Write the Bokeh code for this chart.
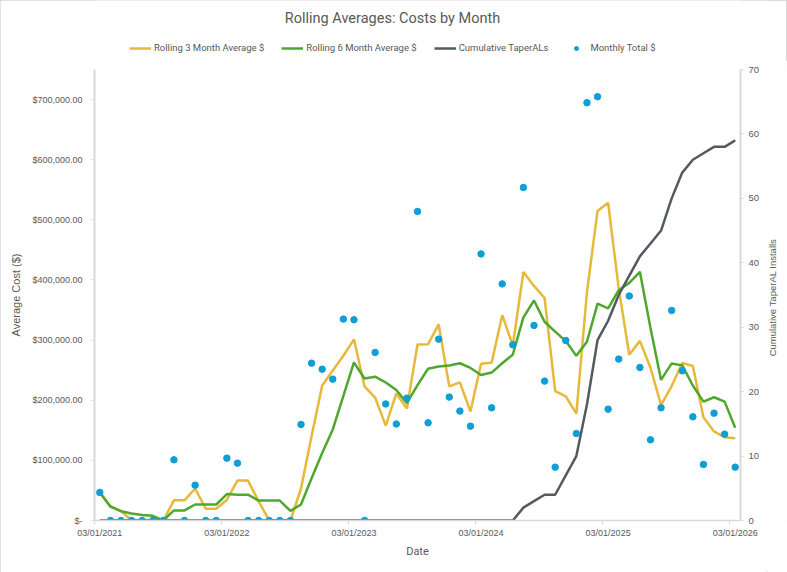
import math
from bokeh.plotting import figure
from bokeh.layouts import column, row
from bokeh.models import (Range1d, LinearAxis, FixedTicker, Legend, LegendItem,
                          ColumnDataSource, Label)
from bokeh.embed import file_html
from bokeh.resources import INLINE

# ---- data ----
tick_labels = ["03/01/2021", "03/01/2022", "03/01/2023", "03/01/2024", "03/01/2025", "03/01/2026"]
month_index = list(range(61))  # monthly points, 03/2021 .. 03/2026

monthly_total = [46600, 0, 0, 0, 0, 0, 0, 100900, 0, 58800, 0, 0, 103700, 95400, 0, 0, 0, 0, 0,
                 159700, 261700, 251700, 235100, 334900, 333800, 0, 279500, 193800, 160500, 203500,
                 514000, 162500, 301600, 205200, 181900, 156900, 443300, 187400, 393500, 292200,
                 553800, 324400, 231800, 88700, 299400, 144700, 694800, 704800, 185200, 268400,
                 373300, 254500, 134200, 187400, 349300, 249000, 172500, 93200, 178500, 143600, 88700]

rolling3_k = [46.6, 23.3, 15.5, 0, 0, 0, 0, 33.6, 33.6, 53.2, 19.6, 19.6, 34.6, 66.4, 66.4, 31.8, 0, 0, 0,
              53.2, 140.5, 224.4, 249.5, 273.9, 301.3, 222.9, 204.4, 157.8, 211.3, 186.0, 292.7, 293.3,
              326.0, 223.1, 229.6, 181.3, 260.7, 262.5, 341.4, 291.0, 413.2, 390.1, 370.0, 215.0, 206.6,
              177.6, 379.6, 514.8, 528.3, 386.1, 275.6, 298.7, 254.0, 192.0, 223.6, 261.9, 256.9, 171.6,
              148.1, 138.4, 136.9]

rolling6_k = [46.6, 23.3, 15.5, 11.7, 9.3, 7.8, 0, 16.8, 16.8, 26.6, 26.6, 26.6, 43.9, 43.0, 43.0, 33.2,
              33.2, 33.2, 15.9, 26.6, 70.2, 112.2, 151.4, 207.2, 262.8, 236.2, 239.2, 229.5, 217.1, 195.2,
              225.2, 252.3, 256.0, 257.9, 261.5, 253.7, 241.9, 246.0, 261.4, 275.9, 337.9, 365.8, 330.5,
              314.1, 298.4, 273.8, 297.3, 360.7, 352.9, 382.9, 395.2, 413.5, 320.1, 233.8, 261.2, 258.0,
              224.5, 197.6, 205.0, 197.7, 154.3]

cumulative_taperals = [0] * 40 + [2, 3, 4, 4, 7, 10, 18, 28, 31, 35, 38, 41, 43, 45, 50, 54, 56, 57, 58, 58, 59]

left_ticks = [0, 100000, 200000, 300000, 400000, 500000, 600000, 700000]
left_tick_labels = ["$-", "$100,000.00", "$200,000.00", "$300,000.00", "$400,000.00",
                    "$500,000.00", "$600,000.00", "$700,000.00"]
right_ticks = [0, 10, 20, 30, 40, 50, 60, 70]

title_text = "Rolling Averages: Costs by Month"
series_names = ["Rolling 3 Month Average $", "Rolling 6 Month Average $",
                "Cumulative TaperALs", "Monthly Total $"]
right_axis_title = "Cumulative TaperAL Installs"

# ---- styles ----
YELLOW = "#E8B83A"
GREEN = "#4EA72E"
GRAY = "#535A61"
BLUE = "#0F9ED5"
TXT = "#595959"
AXIS = "#D9D9D9"
NARROW = "Roboto"
SANS = "Liberation Sans"

SIDE_W = 20          # strip on the right that holds the right axis title
W = 787 - SIDE_W     # width of header and main figure
LEFT_B = 94
RIGHT_B = 27
TOP_H = 60
MAIN_H = 512
MAIN_TOP_B = 9
MAIN_BOT_B = 52
FRAME_H = MAIN_H - MAIN_TOP_B - MAIN_BOT_B

# ---- header figure: title + legend (frame aligned with the main frame) ----
hdr = figure(width=W, height=TOP_H, output_backend="svg", toolbar_location=None,
             x_range=Range1d(LEFT_B, W - RIGHT_B), y_range=Range1d(0, TOP_H),
             min_border_left=LEFT_B, min_border_right=RIGHT_B, min_border_top=0, min_border_bottom=0)
hdr.axis.visible = False
hdr.grid.visible = False
hdr.outline_line_color = None
hdr.add_layout(Label(x=392, y=TOP_H - 18, text=title_text, text_align="center",
                     text_baseline="middle", text_font=NARROW, text_font_size="14.5px",
                     text_color=TXT))
# legend proxies (kept outside the visible header range)
h1 = hdr.line([-50, -40], [-50, -50], line_color=YELLOW, line_width=2.5)
h2 = hdr.line([-50, -40], [-50, -50], line_color=GREEN, line_width=2.5)
h3 = hdr.line([-50, -40], [-50, -50], line_color=GRAY, line_width=2.5)
h4 = hdr.scatter([-50], [-50], size=6.5, fill_color=BLUE, line_color=BLUE)
legend = Legend(items=[LegendItem(label=n, renderers=[r]) for n, r in zip(series_names, [h1, h2, h3, h4])],
                orientation="horizontal", location=(35, 7))
legend.label_text_font = NARROW
legend.label_text_font_size = "9.5px"
legend.label_text_color = TXT
legend.glyph_width = 22
legend.glyph_height = 10
legend.label_standoff = 3
legend.spacing = 17
legend.padding = 2
legend.margin = 0
legend.border_line_color = None
legend.background_fill_alpha = 0
hdr.add_layout(legend, "center")

# ---- main figure ----
src = ColumnDataSource(dict(
    x=month_index,
    monthly=monthly_total,
    r3=[v * 1000 for v in rolling3_k],
    r6=[v * 1000 for v in rolling6_k],
    cum=cumulative_taperals,
))

p = figure(width=W, height=MAIN_H, output_backend="svg", toolbar_location=None,
           x_range=Range1d(-0.5, 60.5), y_range=Range1d(0, 750000),
           min_border_left=LEFT_B, min_border_right=RIGHT_B,
           min_border_top=MAIN_TOP_B, min_border_bottom=MAIN_BOT_B)
p.extra_y_ranges = {"cnt": Range1d(0, 70)}
p.grid.visible = False
p.outline_line_color = None

# x axis
xa = p.xaxis[0]
xa.ticker = FixedTicker(ticks=[0, 12, 24, 36, 48, 60],
                        minor_ticks=[-0.5, 11.5, 23.5, 35.5, 47.5, 59.5])
xa.major_label_overrides = {t: lab for t, lab in zip([0, 12, 24, 36, 48, 60], tick_labels)}
xa.axis_label = "Date"
xa.axis_label_text_font = NARROW
xa.axis_label_text_font_size = "11px"
xa.axis_label_text_font_style = "normal"
xa.axis_label_text_color = TXT
xa.axis_label_standoff = 4
xa.major_label_text_font = SANS
xa.major_label_text_font_size = "9px"
xa.major_label_text_color = TXT
xa.major_tick_line_color = None
xa.major_tick_out = 0
xa.major_tick_in = 0
xa.minor_tick_line_color = AXIS
xa.minor_tick_out = 4
xa.minor_tick_in = 0
xa.major_label_standoff = 3
xa.axis_line_color = AXIS
xa.axis_line_width = 1.5

# left axis
ya = p.yaxis[0]
ya.ticker = FixedTicker(ticks=left_ticks)
ya.major_label_overrides = {t: lab for t, lab in zip(left_ticks, left_tick_labels)}
ya.axis_label = "Average Cost ($)"
ya.axis_label_text_font = SANS
ya.axis_label_text_font_size = "11px"
ya.axis_label_text_font_style = "normal"
ya.axis_label_text_color = TXT
ya.axis_label_standoff = 7
ya.major_label_text_font = SANS
ya.major_label_text_font_size = "9px"
ya.major_label_text_color = TXT
ya.major_tick_line_color = AXIS
ya.major_tick_out = 3
ya.major_tick_in = 0
ya.minor_tick_line_color = None
ya.major_label_standoff = 9
ya.axis_line_color = AXIS
ya.axis_line_width = 2

# right axis (ticks and labels)
ra = LinearAxis(y_range_name="cnt", ticker=FixedTicker(ticks=right_ticks))
ra.major_label_text_font = SANS
ra.major_label_text_font_size = "9.5px"
ra.major_label_text_color = TXT
ra.major_tick_line_color = AXIS
ra.major_tick_out = 3
ra.major_tick_in = 0
ra.minor_tick_line_color = None
ra.major_label_standoff = 5
ra.axis_line_color = AXIS
ra.axis_line_width = 2
p.add_layout(ra, "right")

# glyphs
p.line("x", "r3", source=src, line_color=YELLOW, line_width=2.5)
p.line("x", "r6", source=src, line_color=GREEN, line_width=2.5)
p.line("x", "cum", source=src, line_color=GRAY, line_width=2.5, y_range_name="cnt")
p.scatter("x", "monthly", source=src, size=6.5, fill_color=BLUE, line_color=BLUE)

# ---- right strip: right axis title, reading bottom-to-top, centred on the frame ----
side = figure(width=SIDE_W, height=MAIN_H, output_backend="svg", toolbar_location=None,
              x_range=Range1d(0, SIDE_W), y_range=Range1d(0, FRAME_H),
              min_border_left=0, min_border_right=0,
              min_border_top=MAIN_TOP_B, min_border_bottom=MAIN_BOT_B)
side.axis.visible = False
side.grid.visible = False
side.outline_line_color = None
side.add_layout(Label(x=5, y=FRAME_H / 2 - 2.5, text=right_axis_title, angle=math.pi / 2,
                      text_align="center", text_baseline="middle", text_font=SANS,
                      text_font_size="9.5px", text_color=TXT))

layout = column(hdr, row(p, side, spacing=0), spacing=0,
                styles={"outline": "1px solid #D9D9D9", "outline-offset": "-1px"})
open("out.html", "w").write(file_html(layout, INLINE))
